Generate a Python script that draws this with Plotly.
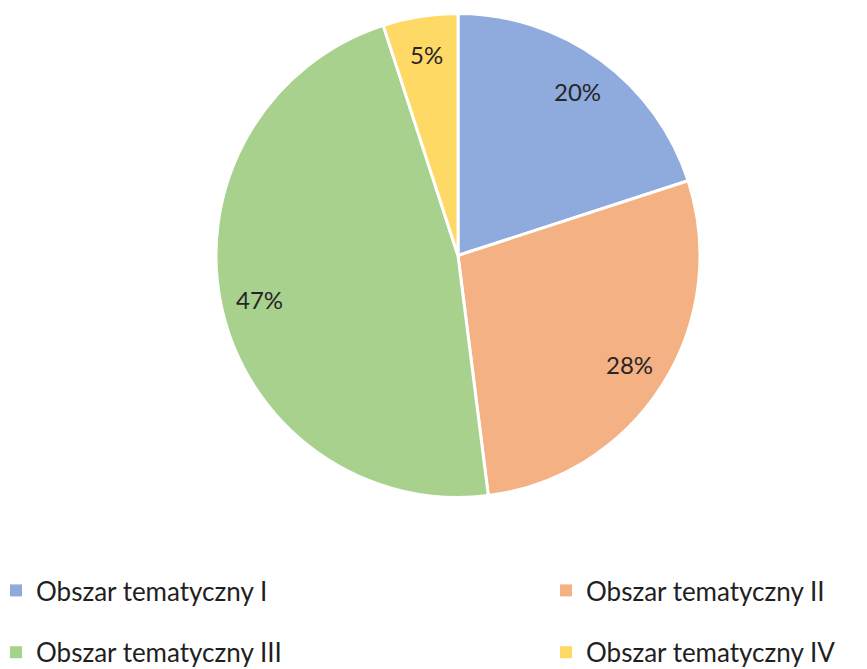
import numpy as np
import plotly.graph_objects as go

# Share of each thematic area (percent)
labels = ["Obszar tematyczny I", "Obszar tematyczny II", "Obszar tematyczny III", "Obszar tematyczny IV"]
values = [20, 28, 47, 5]
colors = ["#8FAADC", "#F4B183", "#A9D18E", "#FFD966"]
# legend column for each entry (two-column legend below the pie)
legend_column = ["legend", "legend2", "legend", "legend2"]

W, H = 867, 669
# pie placement in pixels: centre and radius
cx, cy, R = 458, 255.5, 242

fig = go.Figure(go.Pie(
    labels=labels,
    values=values,
    sort=False,
    direction="clockwise",
    rotation=0,
    marker=dict(colors=colors, line=dict(color="white", width=3)),
    textinfo="none",
    hoverinfo="label+percent",
    showlegend=False,
    domain=dict(x=[(cx - R) / W, (cx + R) / W], y=[1 - (cy + R) / H, 1 - (cy - R) / H]),
))

# legend swatches, one per category
for i, (lab, col, lg) in enumerate(zip(labels, colors, legend_column)):
    fig.add_trace(go.Scatter(
        x=[None], y=[None], mode="markers", name=lab,
        marker=dict(symbol="square", size=12, color=col),
        legend=lg, legendgroup=f"g{i}", showlegend=True, hoverinfo="skip",
    ))

# percentage labels placed along each slice's mid-angle
total = float(np.sum(values))
cum = np.cumsum([0] + values[:-1])
mid = (cum + np.array(values) / 2.0) / total * 2 * np.pi
frac = 0.84
for v, a in zip(values, mid):
    px = cx + frac * R * np.sin(a)
    py = cy - frac * R * np.cos(a)
    fig.add_annotation(
        x=px / W, y=1 - py / H, xref="paper", yref="paper",
        text=f"{round(v / total * 100)}%", showarrow=False,
        font=dict(family="Lato", size=24, color="#262626"),
        xanchor="center", yanchor="middle",
    )

legend_style = dict(
    orientation="v",
    yanchor="top", y=1 - 567 / H,
    xanchor="left",
    font=dict(family="Lato", size=26, color="#1f1f1f"),
    tracegroupgap=25,
    bgcolor="rgba(0,0,0,0)",
    itemclick=False, itemdoubleclick=False,
)

fig.update_layout(
    width=W, height=H,
    margin=dict(l=0, r=0, t=0, b=0, autoexpand=False),
    paper_bgcolor="white",
    plot_bgcolor="white",
    xaxis=dict(visible=False),
    yaxis=dict(visible=False),
    legend=dict(legend_style, x=-4 / W),
    legend2=dict(legend_style, x=546 / W),
)

fig.write_html("out.html")
